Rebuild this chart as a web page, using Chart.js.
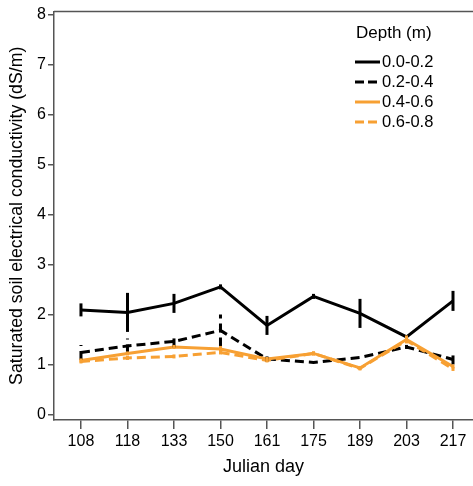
<!DOCTYPE html>
<html>
<head>
<meta charset="utf-8">
<script src="https://cdn.jsdelivr.net/npm/chart.js@4"></script>
<style>
  body { margin: 0; background: #fff; }
  #wrap { width: 473px; height: 486px; }
</style>
</head>
<body>
<div id="wrap"><canvas id="myChart"></canvas></div>
<script>
// Julian days on the x axis
const days = ['108', '118', '133', '150', '161', '175', '189', '203', '217'];
const depths = ['0.0-0.2', '0.2-0.4', '0.4-0.6', '0.6-0.8'];

// mean EC (dS/m) per depth
const ec00_02 = [2.10, 2.05, 2.23, 2.56, 1.79, 2.37, 2.03, 1.56, 2.28];
const ec02_04 = [1.25, 1.38, 1.47, 1.69, 1.12, 1.05, 1.15, 1.36, 1.11];
const ec04_06 = [1.09, 1.23, 1.36, 1.32, 1.12, 1.23, 0.94, 1.51, 0.97];
const ec06_08 = [1.07, 1.14, 1.17, 1.25, 1.09, 1.23, 0.93, 1.49, 0.92];

// half length of error bars
const err00_02 = [0.13, 0.39, 0.19, 0.05, 0.19, 0.05, 0.29, 0.00, 0.20];
const err02_04 = [0.15, 0.15, 0.12, 0.32, 0.05, 0.00, 0.00, 0.04, 0.10];
const err04_06 = [0.04, 0.04, 0.04, 0.06, 0.04, 0.04, 0.04, 0.08, 0.04];
const err06_08 = [0.04, 0.04, 0.04, 0.04, 0.04, 0.04, 0.04, 0.04, 0.04];

const yTicks = [0, 1, 2, 3, 4, 5, 6, 7, 8];

const black = '#000000';
const orange = '#f7a033';
const axisColor = '#555555';
const FONT = 'Arial, "Liberation Sans", sans-serif';

function pts(arr) {
  return arr.map(function(v, i) { return { x: i, y: v }; });
}

const datasets = [
  { label: depths[0], data: pts(ec00_02), err: err00_02, borderColor: black, borderDash: [], order: 1 },
  { label: depths[1], data: pts(ec02_04), err: err02_04, borderColor: black, borderDash: [9, 5], order: 3 },
  { label: depths[2], data: pts(ec04_06), err: err04_06, borderColor: orange, borderDash: [], order: 0 },
  { label: depths[3], data: pts(ec06_08), err: err06_08, borderColor: orange, borderDash: [9, 5], order: 2 }
].map(function(d) {
  d.borderWidth = 3;
  d.pointRadius = 0;
  d.tension = 0;
  d.fill = false;
  return d;
});

// error bars, drawn via the scales
const errorBars = {
  id: 'errorBars',
  afterDatasetsDraw(chart) {
    const ctx = chart.ctx;
    const xs = chart.scales.x, ys = chart.scales.y;
    chart.data.datasets.forEach(function(ds) {
      ctx.save();
      ctx.strokeStyle = ds.borderColor;
      ctx.lineWidth = 3;
      ctx.setLineDash(ds.borderDash);
      ds.data.forEach(function(p, i) {
        const e = ds.err[i];
        if (!e) return;
        const x = xs.getPixelForValue(p.x);
        ctx.beginPath();
        ctx.moveTo(x, ys.getPixelForValue(p.y - e));
        ctx.lineTo(x, ys.getPixelForValue(p.y + e));
        ctx.stroke();
      });
      ctx.restore();
    });
  }
};

// top frame line + legend inside the plot
const frameLegend = {
  id: 'frameLegend',
  afterDraw(chart) {
    const ctx = chart.ctx;
    const a = chart.chartArea;
    ctx.save();
    ctx.strokeStyle = axisColor;
    ctx.lineWidth = 1.5;
    ctx.beginPath();
    ctx.moveTo(a.left, a.top);
    ctx.lineTo(a.right, a.top);
    ctx.stroke();

    ctx.fillStyle = '#000';
    ctx.textBaseline = 'middle';
    ctx.textAlign = 'left';
    ctx.font = '17px ' + FONT;
    ctx.fillText('Depth (m)', 356, 33);
    ctx.font = '16.5px ' + FONT;
    chart.data.datasets.forEach(function(ds, i) {
      const y = 62 + i * 20;
      ctx.strokeStyle = ds.borderColor;
      ctx.lineWidth = 3;
      ctx.setLineDash(ds.borderDash.length ? [9, 4] : []);
      ctx.beginPath();
      ctx.moveTo(355, y);
      ctx.lineTo(380, y);
      ctx.stroke();
      ctx.setLineDash([]);
      ctx.fillText(ds.label, 382, y);
    });
    ctx.restore();
  }
};

new Chart(document.getElementById('myChart'), {
  type: 'line',
  data: { datasets: datasets },
  plugins: [errorBars, frameLegend],
  options: {
    responsive: true,
    maintainAspectRatio: false,
    animation: false,
    layout: { padding: { top: 4, right: 0, left: 0, bottom: 0 } },
    plugins: { legend: { display: false }, tooltip: { enabled: false } },
    scales: {
      x: {
        type: 'linear',
        min: -0.58,
        max: 8.43,
        afterBuildTicks: function(scale) {
          scale.ticks = days.map(function(d, i) { return { value: i }; });
        },
        afterFit: function(scale) { scale.height = 66; },
        grid: { display: true, drawOnChartArea: false, drawTicks: true, tickLength: 9, color: axisColor, lineWidth: 1.5 },
        border: { display: true, color: axisColor, width: 1.5 },
        ticks: {
          color: '#000',
          font: { family: FONT, size: 16 },
          padding: 3,
          maxRotation: 0,
          autoSkip: false,
          callback: function(v) { return days[v]; }
        },
        title: { display: true, text: 'Julian day', color: '#000', font: { family: FONT, size: 18 }, padding: { top: 4, bottom: 8 } }
      },
      y: {
        min: -0.1,
        max: 8.06,
        afterBuildTicks: function(scale) {
          scale.ticks = yTicks.map(function(v) { return { value: v }; });
        },
        afterFit: function(scale) { scale.width = 54; },
        grid: { display: true, drawOnChartArea: false, drawTicks: true, tickLength: 6, color: axisColor, lineWidth: 1.5 },
        border: { display: true, color: axisColor, width: 1.5 },
        ticks: { color: '#000', font: { family: FONT, size: 16 }, padding: 2 },
        title: { display: true, text: 'Saturated soil electrical conductivity (dS/m)', color: '#000', font: { family: FONT, size: 17.7 }, padding: { top: 6, bottom: 4 } }
      }
    }
  }
});
</script>
</body>
</html>
